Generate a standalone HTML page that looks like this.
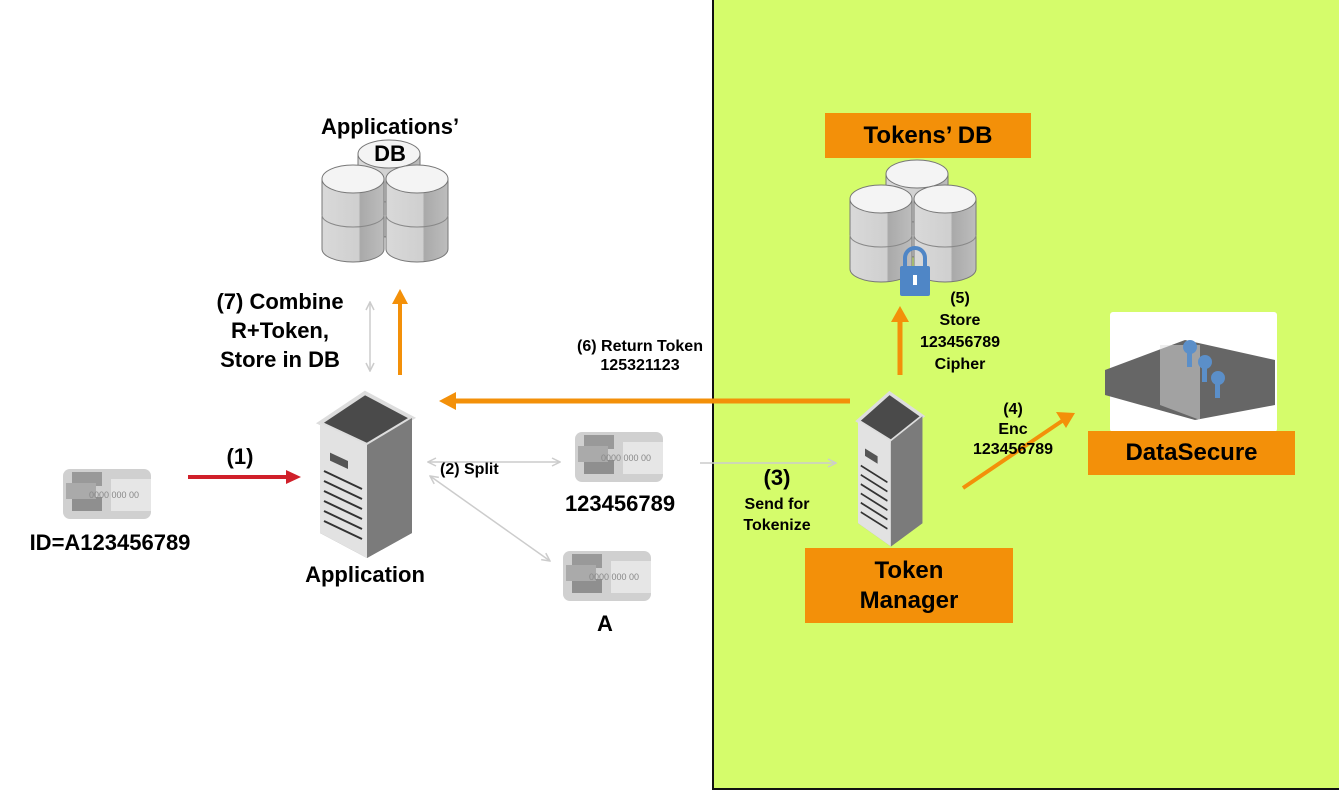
<!DOCTYPE html>
<html><head><style>
body{margin:0;width:1339px;height:790px;position:relative;background:#fff;font-family:"Liberation Sans",Arial,sans-serif;overflow:hidden}
.t{position:absolute;font-weight:bold;color:#000;text-align:center;white-space:nowrap}
.ob{position:absolute;background:#f39009;font-weight:bold;font-size:24px;text-align:center;color:#000}
</style></head><body>
<div style="position:absolute;left:712px;top:0;width:625px;height:788px;background:#d5fc6b;border:2px solid #111;border-top:none"></div>
<svg width="1339" height="790" style="position:absolute;left:0;top:0">
<defs>
<linearGradient id="cy" x1="0" x2="1"><stop offset="0" stop-color="#d9d9d9"/><stop offset="0.6" stop-color="#cfcfcf"/><stop offset="0.61" stop-color="#a9a9a9"/><stop offset="1" stop-color="#bdbdbd"/></linearGradient>
<g id="cyl"><path d="M0,14 v70 a31,13 0 0 0 62,0 v-70z" fill="url(#cy)" stroke="#777"/><ellipse cx="31" cy="14" rx="31" ry="14" fill="#f4f4f4" stroke="#777"/><path d="M0,50 a31,12 0 0 0 62,0" fill="none" stroke="#888"/></g>
<g id="db"><use href="#cyl" x="36" y="0"/><use href="#cyl" x="0" y="25"/><use href="#cyl" x="64" y="25"/></g>
<g id="srv"><path d="M0,30 L45,0 L92,25 L92,140 L47,165 L0,140z" fill="#8a8a8a"/><path d="M0,30 L45,0 L92,25 L47,52z" fill="#4a4a4a" stroke="#ddd" stroke-width="4"/><path d="M0,30 L47,52 L47,165 L0,140z" fill="#e2e2e2"/><path d="M47,52 L92,25 L92,140 L47,165z" fill="#7b7b7b"/>
<g stroke="#333" stroke-width="2"><line x1="4" y1="78" x2="42" y2="96"/><line x1="4" y1="88" x2="42" y2="106"/><line x1="4" y1="98" x2="42" y2="116"/><line x1="4" y1="108" x2="42" y2="126"/><line x1="4" y1="118" x2="42" y2="136"/><line x1="4" y1="128" x2="42" y2="146"/></g><rect x="10" y="55" width="18" height="8" fill="#555" transform="skewY(25)"/></g>
<g id="card"><rect width="88" height="50" rx="7" fill="#d0d0d0"/><rect x="48" y="10" width="40" height="32" fill="#e6e6e6"/><rect x="9" y="3" width="30" height="14" fill="#999"/><rect x="9" y="28" width="30" height="14" fill="#8f8f8f"/><rect x="3" y="14" width="30" height="16" fill="#aaa"/><text x="26" y="29" font-size="9" fill="#888" font-family="Liberation Sans">0000 000 00</text></g>
<marker id="ag" markerWidth="10" markerHeight="10" refX="9" refY="5" orient="auto-start-reverse" markerUnits="userSpaceOnUse"><path d="M1,1 L9,5 L1,9" fill="none" stroke="#ccc" stroke-width="1.5"/></marker>
</defs>
<use href="#db" x="322" y="140"/>
<use href="#db" x="850" y="160"/>
<rect x="900" y="266" width="30" height="30" rx="2" fill="#4f86c6"/><path d="M905,266 v-8 a10,10 0 0 1 20,0 v8" fill="none" stroke="#4f86c6" stroke-width="4"/><rect x="913" y="275" width="4" height="10" fill="#fff"/>
<use href="#srv" x="320" y="393"/>
<use href="#srv" x="858" y="393" transform="translate(858,393) scale(0.7,0.93) translate(-858,-393)"/>
<use href="#card" x="63" y="469"/><use href="#card" x="575" y="432"/><use href="#card" x="563" y="551"/>
<rect x="1110" y="312" width="167" height="120" rx="3" fill="#fff"/>
<path d="M1105,370 L1185,340 L1275,360 L1275,405 L1195,420 L1105,395z" fill="#666"/><path d="M1160,345 L1200,345 L1200,420 L1160,405z" fill="#ddd" opacity=".5"/>
<g fill="#5b8fc9"><circle cx="1190" cy="347" r="7"/><rect x="1187" y="347" width="5" height="20"/><circle cx="1205" cy="362" r="7"/><rect x="1202" y="362" width="5" height="20"/><circle cx="1218" cy="378" r="7"/><rect x="1215" y="378" width="5" height="20"/></g>
<line x1="188" y1="477" x2="288" y2="477" stroke="#d0202a" stroke-width="4"/><path d="M286,470 L301,477 L286,484z" fill="#d0202a"/>
<line x1="400" y1="375" x2="400" y2="303" stroke="#f39009" stroke-width="4"/><path d="M392,304 L400,289 L408,304z" fill="#f39009"/>
<line x1="900" y1="375" x2="900" y2="320" stroke="#f39009" stroke-width="5"/><path d="M891,322 L900,306 L909,322z" fill="#f39009"/>
<line x1="850" y1="401" x2="455" y2="401" stroke="#f39009" stroke-width="5"/><path d="M456,392 L439,401 L456,410z" fill="#f39009"/>
<line x1="963" y1="488" x2="1062" y2="421" stroke="#f39009" stroke-width="4"/><path d="M1056,412 L1075,413 L1066,428z" fill="#f39009"/>
<line x1="370" y1="302" x2="370" y2="371" stroke="#ccc" stroke-width="1.5" marker-start="url(#ag)" marker-end="url(#ag)"/>
<line x1="428" y1="462" x2="560" y2="462" stroke="#ccc" stroke-width="1.5" marker-start="url(#ag)" marker-end="url(#ag)"/>
<line x1="430" y1="476" x2="550" y2="561" stroke="#ccc" stroke-width="1.5" marker-start="url(#ag)" marker-end="url(#ag)"/>
<line x1="700" y1="463" x2="836" y2="463" stroke="#ccc" stroke-width="1.5" marker-end="url(#ag)"/>
</svg>
<div class="ob" style="left:825px;top:113px;width:206px;height:45px;line-height:45px">Tokens’ DB</div>
<div class="ob" style="left:1088px;top:431px;width:207px;height:44px;line-height:44px">DataSecure</div>
<div class="ob" style="left:805px;top:548px;width:208px;height:75px;line-height:30px;padding-top:8px;box-sizing:border-box">Token<br>Manager</div>
<div class="t" style="left:300px;top:113px;width:180px;font-size:22px;line-height:27px">Applications’<br>DB</div>
<div class="t" style="left:190px;top:287px;width:180px;font-size:22px;line-height:29px">(7) Combine<br>R+Token,<br>Store in DB</div>
<div class="t" style="left:540px;top:337px;width:200px;font-size:16px;line-height:19px">(6) Return Token<br>125321123</div>
<div class="t" style="left:900px;top:288px;width:120px;font-size:16px;line-height:22px">(5)<br>Store<br>123456789<br>Cipher</div>
<div class="t" style="left:953px;top:400px;width:120px;font-size:16px;line-height:20px">(4)<br>Enc<br>123456789</div>
<div class="t" style="left:717px;top:466px;width:120px;font-size:22px;line-height:24px">(3)</div>
<div class="t" style="left:717px;top:494px;width:120px;font-size:16px;line-height:21px">Send for<br>Tokenize</div>
<div class="t" style="left:200px;top:444px;width:80px;font-size:22px">(1)</div>
<div class="t" style="left:440px;top:461px;font-size:16px">(2) Split</div>
<div class="t" style="left:10px;top:530px;width:200px;font-size:22px">ID=A123456789</div>
<div class="t" style="left:280px;top:562px;width:170px;font-size:22px">Application</div>
<div class="t" style="left:540px;top:491px;width:160px;font-size:22px">123456789</div>
<div class="t" style="left:580px;top:611px;width:50px;font-size:22px">A</div>
</body></html>
